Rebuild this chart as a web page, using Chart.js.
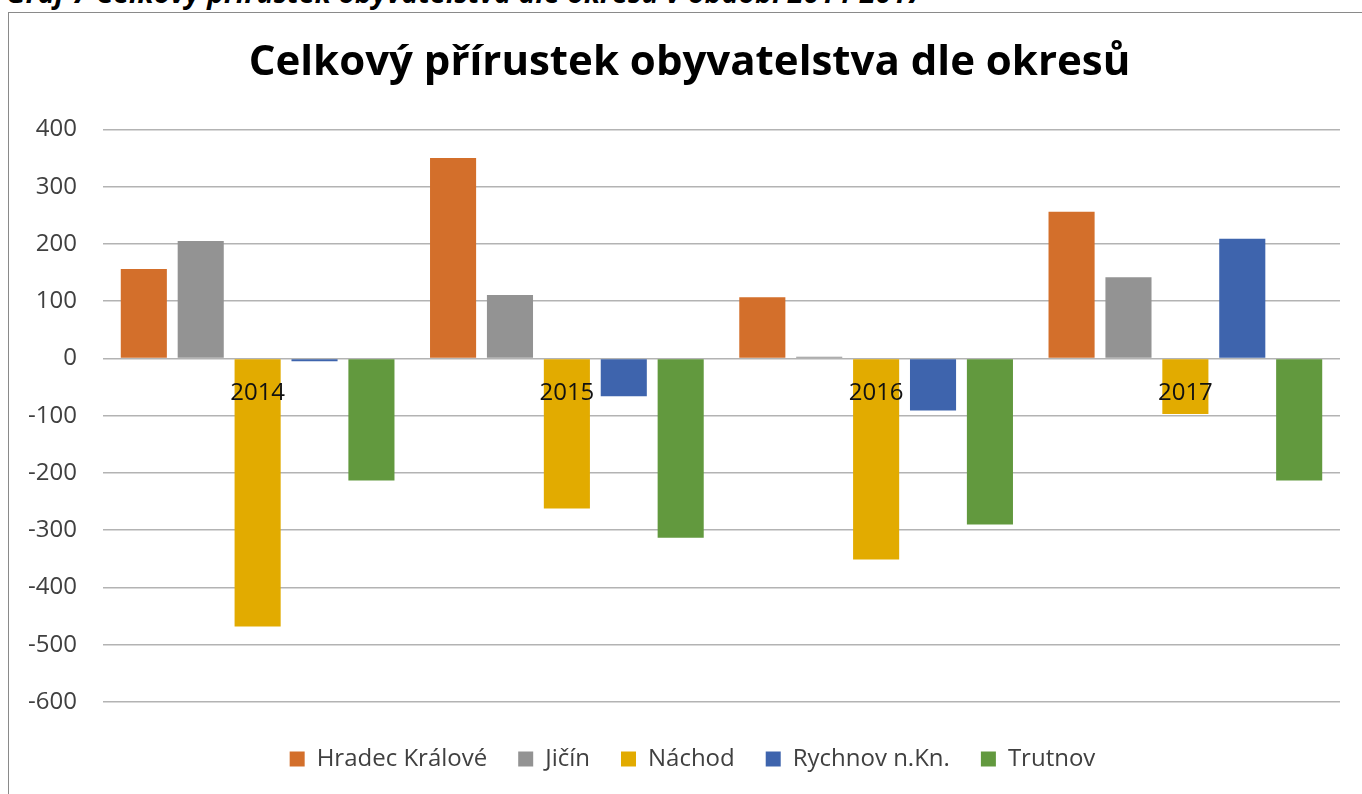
<!DOCTYPE html>
<html lang="cs">
<head>
<meta charset="utf-8">
<title>Celkový přírustek obyvatelstva dle okresů</title>
<script src="https://cdn.jsdelivr.net/npm/chart.js"></script>
<style>
    html, body { margin: 0; padding: 0; background: #fff; overflow: hidden; }
    #nadpis {
        position: absolute;
        left: 6px;
        top: -22px;
        font: italic bold 28.5px/1 "Open Sans", sans-serif;
        color: #000;
        white-space: nowrap;
    }
    #ramecek {
        position: absolute;
        left: 8px;
        top: 12px;
        width: 1400px;
        height: 900px;
        border: 1px solid #8a8a8a;
        pointer-events: none;
    }
    #graf { position: absolute; left: 0; top: 0; }
</style>
</head>
<body>
<div id="nadpis">Graf 7 Celkový přírustek obyvatelstva dle okresů v období 2014-2017</div>
<canvas id="graf" width="1362" height="794"></canvas>
<div id="ramecek"></div>

<script>
// data z grafu
const roky = ['2014', '2015', '2016', '2017'];
const hradecKralove = [156, 350, 107, 256];
const jicin = [205, 111, 3, 142];
const nachod = [-468, -262, -351, -97];
const rychnov = [-5, -66, -91, 209];
const trutnov = [-213, -313, -290, -213];

const osaMin = -600;
const osaMax = 400;
const osaKrok = 100;

const ctx = document.getElementById('graf').getContext('2d');

// posun legendy a nadpisu (ramecek v Excelu pokracuje za pravy okraj)
const posunBloku = {
    id: 'posunBloku',
    afterLayout(chart) {
        chart.legend.top += 14;
        chart.legend.bottom += 14;
        chart.legend.left += 9;
        chart.legend.right += 9;
        chart.titleBlock.left += 6;
        chart.titleBlock.right += 6;
    }
};

new Chart(ctx, {
    type: 'bar',
    data: {
        labels: roky,
        datasets: [
            { label: 'Hradec Králové', data: hradecKralove, backgroundColor: '#d36f2b' },
            { label: 'Jičín', data: jicin, backgroundColor: '#939393' },
            { label: 'Náchod', data: nachod, backgroundColor: '#e2ab00' },
            { label: 'Rychnov n.Kn.', data: rychnov, backgroundColor: '#3e64ad' },
            { label: 'Trutnov', data: trutnov, backgroundColor: '#62993e' },
        ],
    },
    options: {
        responsive: false,
        animation: false,
        datasets: {
            bar: { barPercentage: 0.81, categoryPercentage: 0.92 }
        },
        layout: {
            padding: { left: 27, right: 22, top: 0, bottom: 27 }
        },
        scales: {
            x: {
                position: { y: 0 },
                grid: { display: false, drawTicks: false },
                border: { display: false },
                ticks: {
                    z: 1, // popisky let nad sloupci
                    padding: 20,
                    color: '#111',
                    font: { family: 'Open Sans', size: 24 },
                },
            },
            y: {
                min: osaMin,
                max: osaMax,
                grid: { color: '#b3b3b3', lineWidth: 1.5, drawTicks: false },
                border: { display: false },
                ticks: {
                    stepSize: osaKrok,
                    padding: 26,
                    color: '#404040',
                    font: { family: 'Open Sans', size: 24 },
                },
                afterFit: (scale) => { scale.width = 76; },
            },
        },
        plugins: {
            title: {
                display: true,
                text: 'Celkový přírustek obyvatelstva dle okresů',
                color: '#000',
                font: { family: 'Open Sans', size: 42, weight: 'bold' },
                padding: { top: 38, bottom: 41 },
            },
            legend: {
                position: 'bottom',
                labels: {
                    boxWidth: 15,
                    boxHeight: 15,
                    padding: 31,
                    color: '#404040',
                    font: { family: 'Open Sans', size: 24 },
                },
            },
            tooltip: { enabled: false },
        },
    },
    plugins: [posunBloku],
});
</script>
</body>
</html>
